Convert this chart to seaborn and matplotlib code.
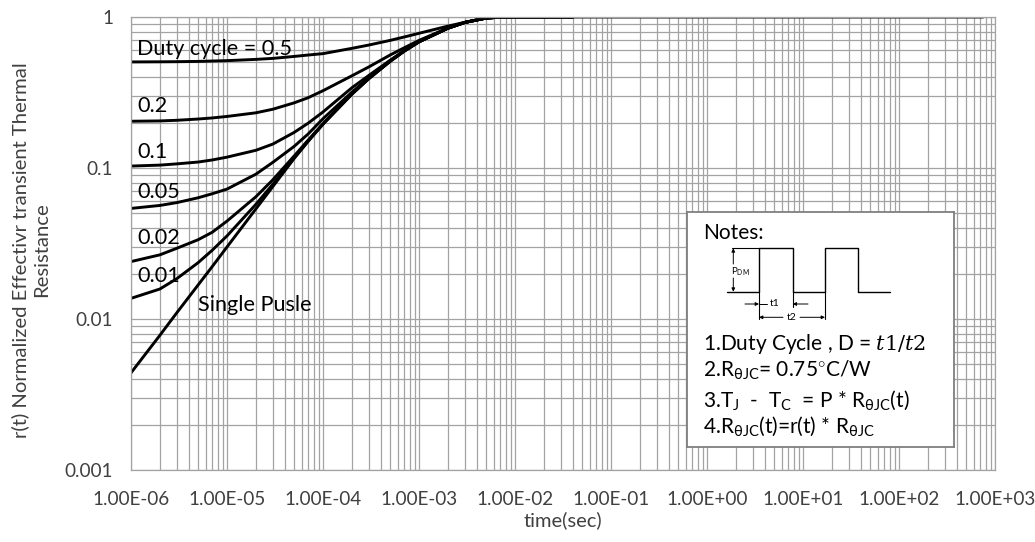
import numpy as np
import pandas as pd
import seaborn as sns
import matplotlib.pyplot as plt
from matplotlib.ticker import LogLocator, FixedLocator, NullFormatter

# ---------------- data ----------------
time_short = [1e-6, 2e-6, 3e-6, 5e-6, 7e-6,
              1e-5, 2e-5, 3e-5, 5e-5, 7e-5,
              1e-4, 2e-4, 3e-4, 5e-4, 7e-4,
              1e-3, 2e-3, 3e-3, 5e-3, 7e-3,
              1e-2, 4e-2]
time_single = time_short + [1e-1, 1e0, 1e1, 1e2, 7.5e2]

r_single = [0.0044, 0.0078, 0.011, 0.0168, 0.0222,
            0.030, 0.0536, 0.0753, 0.1156, 0.150,
            0.195, 0.308, 0.390, 0.508, 0.593,
            0.684, 0.842, 0.920, 0.984, 0.997,
            1.0, 1.0, 1.0, 1.0, 1.0, 1.0, 1.0]
r_d05 = [0.504, 0.505, 0.506, 0.508, 0.511,
         0.514, 0.524, 0.532, 0.548, 0.56,
         0.572, 0.62, 0.652, 0.70, 0.737,
         0.78, 0.87, 0.922, 0.984, 0.997,
         1.0, 1.0]
r_d02 = [0.204, 0.205, 0.207, 0.211, 0.2145,
         0.2195, 0.232, 0.245, 0.27, 0.292,
         0.325, 0.408, 0.467, 0.56, 0.625,
         0.70, 0.845, 0.921, 0.984, 0.997,
         1.0, 1.0]
r_d01 = [0.103, 0.1045, 0.1065, 0.1095, 0.113,
         0.118, 0.131, 0.144, 0.172, 0.198,
         0.235, 0.34, 0.41, 0.517, 0.598,
         0.686, 0.843, 0.92, 0.984, 0.997,
         1.0, 1.0]
r_d005 = [0.054, 0.0565, 0.059, 0.0635, 0.0675,
          0.0725, 0.091, 0.109, 0.139, 0.168,
          0.212, 0.318, 0.395, 0.512, 0.597,
          0.687, 0.844, 0.92, 0.984, 0.997,
          1.0, 1.0]
r_d002 = [0.024, 0.0266, 0.0294, 0.0335, 0.0375,
          0.0445, 0.0645, 0.0835, 0.12, 0.153,
          0.1965, 0.31, 0.392, 0.51, 0.595,
          0.686, 0.843, 0.92, 0.984, 0.997,
          1.0, 1.0]
r_d001 = [0.0137, 0.0158, 0.0185, 0.0236, 0.0285,
          0.0355, 0.0575, 0.078, 0.1165, 0.151,
          0.1955, 0.309, 0.391, 0.509, 0.594,
          0.685, 0.843, 0.92, 0.984, 0.997,
          1.0, 1.0]

series_names = ["0.5", "0.2", "0.1", "0.05", "0.02", "0.01", "Single Pusle"]
series_values = [r_d05, r_d02, r_d01, r_d005, r_d002, r_d001, r_single]
series_times = [time_short] * 6 + [time_single]

x_ticks = [1e-6, 1e-5, 1e-4, 1e-3, 1e-2, 1e-1, 1e0, 1e1, 1e2, 1e3]
x_tick_labels = ["1.00E-06", "1.00E-05", "1.00E-04", "1.00E-03", "1.00E-02",
                 "1.00E-01", "1.00E+00", "1.00E+01", "1.00E+02", "1.00E+03"]
y_ticks = [0.001, 0.01, 0.1, 1]
y_tick_labels = ["0.001", "0.01", "0.1", "1"]

label_texts = ["Duty cycle = 0.5", "0.2", "0.1", "0.05", "0.02", "0.01", "Single Pusle"]

# ---------------- style ----------------
sns.set_theme(style="white")
plt.rcParams["font.family"] = ["Lato", "DejaVu Sans"]
plt.rcParams["mathtext.fontset"] = "custom"
plt.rcParams["mathtext.rm"] = "Lato"
plt.rcParams["mathtext.it"] = "Lato:italic"
plt.rcParams["mathtext.bf"] = "Lato:bold"

GRID = "#a3a3a3"
TXT = "#404040"

df = pd.concat(
    [pd.DataFrame({"time": t, "r": v, "series": n})
     for n, v, t in zip(series_names, series_values, series_times)],
    ignore_index=True)

W, H = 1035, 542
fig = plt.figure(figsize=(W / 100, H / 100), dpi=100)
L, R, T, B = 131, 995, 17, 470
ax = fig.add_axes([L / W, 1 - B / H, (R - L) / W, (B - T) / H])

sns.lineplot(data=df, x="time", y="r", hue="series", hue_order=series_names,
             palette=["black"] * len(series_names), estimator=None,
             legend=False, linewidth=2.1, ax=ax)

ax.set_xscale("log")
ax.set_yscale("log")
ax.set_xlim(1e-6, 1e3)
ax.set_ylim(1e-3, 1)

ax.xaxis.set_major_locator(FixedLocator(x_ticks))
ax.set_xticklabels(x_tick_labels)
ax.xaxis.set_minor_locator(LogLocator(base=10, subs=np.arange(2, 10), numticks=100))
ax.xaxis.set_minor_formatter(NullFormatter())
ax.yaxis.set_major_locator(FixedLocator(y_ticks))
ax.set_yticklabels(y_tick_labels)
ax.yaxis.set_minor_locator(LogLocator(base=10, subs=np.arange(2, 10), numticks=100))
ax.yaxis.set_minor_formatter(NullFormatter())

ax.grid(True, which="both", color=GRID, linewidth=0.9)
ax.set_axisbelow(True)
for s in ax.spines.values():
    s.set_color(GRID)
    s.set_linewidth(0.9)
ax.tick_params(which="both", length=0, colors=TXT, labelsize=13.6)
ax.tick_params(axis="x", pad=15)
ax.tick_params(axis="y", pad=13)
ax.set_xlabel("")
ax.set_ylabel("")

# curve labels (axes fraction positions)
label_pos = [(0.0069, 0.916), (0.0069, 0.791), (0.0069, 0.688), (0.0069, 0.600),
             (0.0069, 0.500), (0.0069, 0.416), (0.0775, 0.352)]
for txt, (px, py) in zip(label_texts, label_pos):
    ax.text(px, py, txt, transform=ax.transAxes, fontsize=15.6, color="black",
            ha="left", va="baseline")

# axis titles
fig.text(563 / W, 1 - 520 / H, "time(sec)", ha="center", va="center",
         fontsize=14.5, color=TXT)
fig.text(31 / W, 1 - 250 / H,
         "r(t) Normalized Effectivr transient Thermal\nResistance",
         rotation=90, ha="center", va="center", multialignment="center",
         fontsize=14.6, color=TXT, linespacing=1.3)

# ---------------- notes box ----------------
bx0, by0, bx1, by1 = 687, 212, 954, 447
axn = fig.add_axes([bx0 / W, 1 - by1 / H, (bx1 - bx0) / W, (by1 - by0) / H])
axn.set_xlim(0, bx1 - bx0)
axn.set_ylim(by1 - by0, 0)
axn.set_xticks([])
axn.set_yticks([])
axn.set_facecolor("white")
for s in axn.spines.values():
    s.set_color("#7f7f7f")
    s.set_linewidth(1.3)

wave_x = [39.7, 72, 72, 105.7, 105.7, 138, 138, 171.3, 171.3, 203]
wave_y = [79.7, 79.7, 36.3, 36.3, 79.7, 79.7, 36.3, 36.3, 79.7, 79.7]
axn.plot(wave_x, wave_y, color="black", lw=1.0)
axn.plot([44.7, 72], [36.3, 36.3], color="black", lw=0.8)
# extension lines
axn.plot([72, 72], [79.7, 107], color="black", lw=0.8)
axn.plot([105.7, 105.7], [79.7, 95], color="black", lw=0.8)
axn.plot([138, 138], [79.7, 107], color="black", lw=0.8)

ap = dict(arrowstyle="-|>", lw=0.7, color="black", mutation_scale=5,
          shrinkA=0, shrinkB=0)
# P_DM arrows
axn.annotate("", xy=(46.3, 36.3), xytext=(46.3, 52), arrowprops=ap)
axn.annotate("", xy=(46.3, 79.7), xytext=(46.3, 66), arrowprops=ap)
axn.text(44, 59.7, r"P$_{\mathrm{DM}}$", fontsize=7, ha="left", va="center",
         color="black")
# t1
axn.annotate("", xy=(72, 92), xytext=(58, 92), arrowprops=ap)
axn.annotate("", xy=(105.7, 92), xytext=(121, 92), arrowprops=ap)
axn.plot([72, 80], [92, 92], color="black", lw=0.7)
axn.text(88, 92, "t1", fontsize=7.5, ha="center", va="center", color="black")
# t2
axn.annotate("", xy=(72, 105.3), xytext=(96, 105.3), arrowprops=ap)
axn.annotate("", xy=(138, 105.3), xytext=(113, 105.3), arrowprops=ap)
axn.text(104.7, 105.3, "t2", fontsize=7.5, ha="center", va="center", color="black")

NF = 15
axn.text(16, 27.3, "Notes:", fontsize=NF, ha="left", va="baseline", color="black")
axn.text(16, 138, r"1.Duty Cycle , D = $t1/t2$", fontsize=NF, ha="left",
         va="baseline", color="black", math_fontfamily="dejavuserif")
axn.text(16, 164.7, r"2.R$_{\mathrm{\theta JC}}$= 0.75$^{\circ}$C/W", fontsize=NF,
         ha="left", va="baseline", color="black")
axn.text(16, 194.7, r"3.T$_{\mathrm{J}}$  -  T$_{\mathrm{C}}$  = P * R$_{\mathrm{\theta JC}}$(t)",
         fontsize=NF, ha="left", va="baseline", color="black")
axn.text(16, 220.7, r"4.R$_{\mathrm{\theta JC}}$(t)=r(t) * R$_{\mathrm{\theta JC}}$",
         fontsize=NF, ha="left", va="baseline", color="black")

fig.savefig("out.png", dpi=100)
